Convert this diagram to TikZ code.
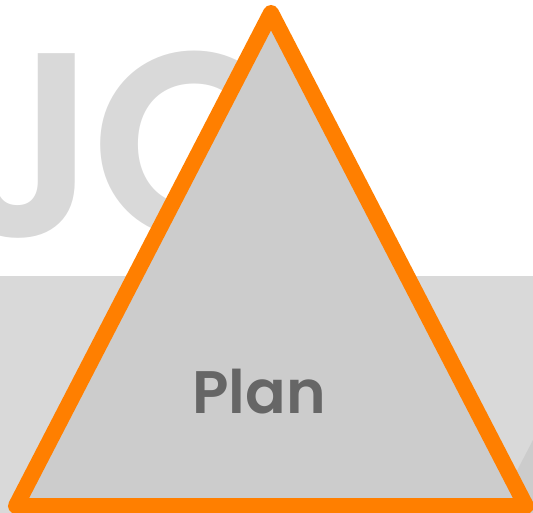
\documentclass[tikz,border=0pt]{standalone}
\usepackage{fontspec}
\setmainfont{Poppins}
\newfontfamily\wordfont{Poppins}[UprightFont=*-SemiBold]
\newfontfamily\labelfont{Poppins}[UprightFont=*-SemiBold]
\usetikzlibrary{positioning}

\definecolor{bandgray}{HTML}{D9D9D9}
\definecolor{trifill}{HTML}{CCCCCC}
\definecolor{triline}{HTML}{FF7F00}
\definecolor{labelgray}{HTML}{666666}

\begin{document}
\begin{tikzpicture}[x=1pt,y=-1pt,
        bigletters/.style={text=bandgray,font=\wordfont\fontsize{262}{262}\selectfont,inner sep=0pt,anchor=base west},
        tristroke/.style={draw=triline,line width=16pt,line join=round,fill=trifill},
        trilabel/.style={text=labelgray,font=\labelfont\fontsize{60}{60}\selectfont,inner sep=0pt,anchor=base}]
    \useasboundingbox (0,0) rectangle (533,513);
    \clip (0,0) rectangle (533,513);
    % background word and band
    \node[bigletters] (word) at (-50,237) {J\kern-8pt O};
    \fill[bandgray] (0,276) rectangle (533,513);
    \fill[trifill] (533,440) -- (495,513) -- (533,513) -- cycle;
    % triangle
    \coordinate (top) at (271,13);
    \coordinate (left) at (16,506);
    \coordinate (right) at (526,506);
    \draw[tristroke] (top) -- (left) -- (right) -- cycle;
    \node[trilabel] (plan) at (259,413) {Plan};
\end{tikzpicture}
\end{document}
